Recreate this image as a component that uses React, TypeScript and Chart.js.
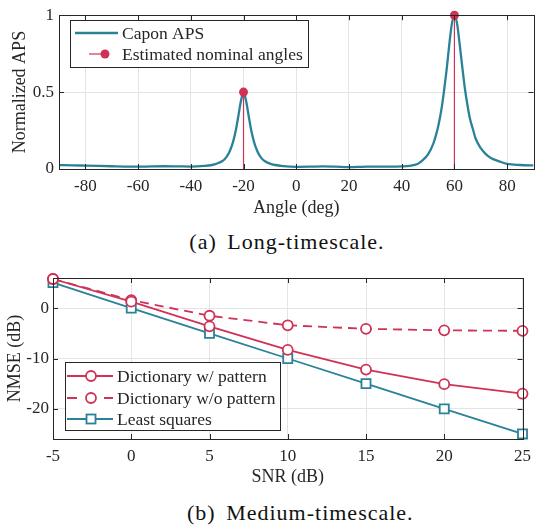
import React, { useEffect, useRef } from "react";
import { Chart, registerables } from "chart.js";
Chart.register(...registerables);

const FONT = "'Liberation Serif', 'Times New Roman', serif";
const RED = "#d03256";
const TEAL = "#2a8298";
const TEXT = "#262626";
const GRID = "#e4e4e4";

// ---------- (a) Long-timescale ----------
const angleTicks = [-80, -60, -40, -20, 0, 20, 40, 60, 80];
const apsTicks = [0, 0.5, 1];
const angles = [
  -90, -85, -80, -75, -70, -65, -60, -55, -50, -45, -40, -35, -32, -30, -28, -27, -26, -25, -24, -23, -22, -21,
  -20, -19, -18, -17, -16, -15, -14, -13, -12, -10, -8, -5, 0, 5, 10, 15, 20, 25, 30, 35, 38, 40, 43, 46, 48,
  50, 52, 53, 54, 55, 56, 57, 58, 59, 60, 61, 62, 63, 64, 65, 66, 67, 68, 70, 72, 74, 77, 80, 85, 90,
];
const caponAps = [
  0.025, 0.024, 0.022, 0.02, 0.018, 0.016, 0.015, 0.017, 0.018, 0.017, 0.016, 0.02, 0.026, 0.036, 0.052, 0.067,
  0.09, 0.125, 0.175, 0.245, 0.34, 0.44, 0.5, 0.44, 0.34, 0.245, 0.175, 0.125, 0.09, 0.067, 0.052, 0.035, 0.026,
  0.019, 0.014, 0.015, 0.017, 0.015, 0.012, 0.014, 0.016, 0.016, 0.016, 0.017, 0.021, 0.033, 0.058, 0.095, 0.165,
  0.22, 0.29, 0.38, 0.5, 0.64, 0.8, 0.94, 1.0, 0.945, 0.81, 0.66, 0.52, 0.41, 0.32, 0.26, 0.2, 0.135, 0.095, 0.07,
  0.05, 0.033, 0.026, 0.023,
];
const estAngles = [-20, 60];
const estValues = [0.5, 1.0];
const seriesA = ["Capon APS", "Estimated nominal angles"];

// ---------- (b) Medium-timescale ----------
const snr = [-5, 0, 5, 10, 15, 20, 25];
const snrTicks = [-5, 0, 5, 10, 15, 20, 25];
const nmseTicks = [-20, -10, 0];
const dictWithPattern = [5.8, 1.3, -3.6, -8.3, -12.2, -15.1, -17.0];
const dictWithoutPattern = [5.8, 1.6, -1.5, -3.4, -4.1, -4.4, -4.5];
const leastSquares = [5.1, 0.0, -5.0, -10.0, -15.0, -20.0, -25.0];
const seriesB = ["Dictionary w/ pattern", "Dictionary w/o pattern", "Least squares"];

const framePlugin = {
  id: "frameTicks",
  afterDatasetsDraw(chart: any) {
    const { ctx, chartArea: a, scales } = chart;
    const tl = 5;
    ctx.save();
    ctx.strokeStyle = TEXT;
    ctx.lineWidth = 1;
    ctx.beginPath();
    scales.x.ticks.forEach((t: any) => {
      const x = Math.round(scales.x.getPixelForValue(t.value)) + 0.5;
      ctx.moveTo(x, a.bottom);
      ctx.lineTo(x, a.bottom - tl);
      ctx.moveTo(x, a.top);
      ctx.lineTo(x, a.top + tl);
    });
    scales.y.ticks.forEach((t: any) => {
      const y = Math.round(scales.y.getPixelForValue(t.value)) + 0.5;
      ctx.moveTo(a.left, y);
      ctx.lineTo(a.left + tl, y);
      ctx.moveTo(a.right, y);
      ctx.lineTo(a.right - tl, y);
    });
    ctx.stroke();
    ctx.strokeRect(Math.round(a.left) + 0.5, Math.round(a.top) + 0.5, Math.round(a.right - a.left), Math.round(a.bottom - a.top));
    ctx.restore();
  },
};

type LegItem = {
  label: string;
  color: string;
  width: number;
  segs: number[][];
  marker: "circle" | "rect" | "dot" | null;
  mx: number;
};

function legendPlugin(box: { x: number; y: number; w: number; h: number }, rows: number[], textX: number, items: LegItem[]) {
  return {
    id: "customLegend",
    afterDraw(chart: any) {
      const ctx = chart.ctx;
      ctx.save();
      ctx.fillStyle = "#fff";
      ctx.fillRect(box.x, box.y, box.w, box.h);
      ctx.strokeStyle = TEXT;
      ctx.lineWidth = 1;
      ctx.strokeRect(box.x + 0.5, box.y + 0.5, box.w, box.h);
      items.forEach((it, i) => {
        const y = rows[i];
        ctx.strokeStyle = it.color;
        ctx.lineWidth = it.width;
        ctx.beginPath();
        it.segs.forEach((s) => {
          ctx.moveTo(s[0], y);
          ctx.lineTo(s[1], y);
        });
        ctx.stroke();
        if (it.marker === "circle") {
          ctx.beginPath();
          ctx.arc(it.mx, y, 5, 0, Math.PI * 2);
          ctx.fillStyle = "#fff";
          ctx.fill();
          ctx.lineWidth = 1.8;
          ctx.stroke();
        } else if (it.marker === "rect") {
          ctx.fillStyle = "#fff";
          ctx.fillRect(it.mx - 4.5, y - 4.5, 9, 9);
          ctx.lineWidth = 1.8;
          ctx.strokeRect(it.mx - 4.5, y - 4.5, 9, 9);
        } else if (it.marker === "dot") {
          ctx.beginPath();
          ctx.arc(it.mx, y, 4.5, 0, Math.PI * 2);
          ctx.fillStyle = it.color;
          ctx.fill();
        }
        ctx.fillStyle = TEXT;
        ctx.font = `17.5px ${FONT}`;
        ctx.textBaseline = "middle";
        ctx.textAlign = "left";
        ctx.fillText(it.label, textX, y + 1);
      });
      ctx.restore();
    },
  };
}

const tickFont = { family: FONT, size: 17 };
const titleFont = { family: FONT, size: 18 };
const plainLabel = (v: any) => String(v);

function makeChartA(canvas: HTMLCanvasElement) {
  const stems = estAngles.map((a, i) => ({
    label: seriesA[1],
    data: [
      { x: a, y: 0 },
      { x: a, y: estValues[i] },
    ],
    borderColor: RED,
    borderWidth: 1.2,
    pointRadius: [0, 4.5],
    pointBackgroundColor: RED,
    pointBorderWidth: 0,
    clip: false as any,
  }));
  return new Chart(canvas, {
    type: "line",
    data: {
      datasets: [
        ...stems,
        {
          label: seriesA[0],
          data: angles.map((a, i) => ({ x: a, y: caponAps[i] })),
          borderColor: TEAL,
          borderWidth: 2.3,
          pointRadius: 0,
          cubicInterpolationMode: "monotone",
        },
      ] as any,
    },
    options: {
      responsive: false,
      animation: false,
      events: [],
      layout: { padding: { top: 11, right: 3, left: 0, bottom: 0 } },
      plugins: { legend: { display: false }, tooltip: { enabled: false } },
      scales: {
        x: {
          type: "linear",
          min: -90,
          max: 90,
          afterBuildTicks: (s: any) => {
            s.ticks = angleTicks.map((v) => ({ value: v }));
          },
          afterFit: (s: any) => {
            s.height = 56;
          },
          grid: { color: GRID, drawTicks: false },
          border: { display: false },
          ticks: { font: tickFont, color: TEXT, padding: 7, maxRotation: 0, callback: plainLabel },
          title: { display: true, text: "Angle (deg)", font: titleFont, color: TEXT, padding: { top: 0, bottom: 6 } },
        },
        y: {
          type: "linear",
          min: 0,
          max: 1,
          afterBuildTicks: (s: any) => {
            s.ticks = apsTicks.map((v) => ({ value: v }));
          },
          afterFit: (s: any) => {
            s.width = 59;
          },
          grid: { color: GRID, drawTicks: false },
          border: { display: false },
          ticks: { font: tickFont, color: TEXT, padding: 5, callback: plainLabel },
          title: { display: true, text: "Normalized APS", font: titleFont, color: TEXT, padding: { top: 9, bottom: 0 } },
        },
      },
    },
    plugins: [
      framePlugin,
      legendPlugin({ x: 70, y: 20, w: 238, h: 47 }, [33, 54], 122, [
        { label: seriesA[0], color: TEAL, width: 2.3, segs: [[75, 118]], marker: null, mx: 0 },
        { label: seriesA[1], color: RED, width: 1.2, segs: [[89, 108]], marker: "dot", mx: 105 },
      ]),
    ],
  });
}

function makeChartB(canvas: HTMLCanvasElement) {
  const pts = (ys: number[]) => snr.map((s, i) => ({ x: s, y: ys[i] }));
  return new Chart(canvas, {
    type: "line",
    data: {
      datasets: [
        {
          label: seriesB[0],
          data: pts(dictWithPattern),
          borderColor: RED,
          borderWidth: 1.8,
          pointStyle: "circle",
          pointRadius: 5,
          pointBorderWidth: 1.8,
          pointBackgroundColor: "#fff",
          pointBorderColor: RED,
          clip: false as any,
        },
        {
          label: seriesB[1],
          data: pts(dictWithoutPattern),
          borderColor: RED,
          borderWidth: 1.8,
          borderDash: [9, 6],
          pointStyle: "circle",
          pointRadius: 5,
          pointBorderWidth: 1.8,
          pointBackgroundColor: "#fff",
          pointBorderColor: RED,
          clip: false as any,
        },
        {
          label: seriesB[2],
          data: pts(leastSquares),
          borderColor: TEAL,
          borderWidth: 1.8,
          pointStyle: "rect",
          pointRadius: 6.4,
          pointBorderWidth: 1.8,
          pointBackgroundColor: "#fff",
          pointBorderColor: TEAL,
          clip: false as any,
        },
      ] as any,
    },
    options: {
      responsive: false,
      animation: false,
      events: [],
      layout: { padding: { top: 23, right: 8, left: 0, bottom: 0 } },
      plugins: { legend: { display: false }, tooltip: { enabled: false } },
      scales: {
        x: {
          type: "linear",
          min: -5,
          max: 25,
          afterBuildTicks: (s: any) => {
            s.ticks = snrTicks.map((v) => ({ value: v }));
          },
          afterFit: (s: any) => {
            s.height = 56;
          },
          grid: { color: GRID, drawTicks: false },
          border: { display: false },
          ticks: { font: tickFont, color: TEXT, padding: 7, maxRotation: 0, callback: plainLabel },
          title: { display: true, text: "SNR (dB)", font: titleFont, color: TEXT, padding: { top: 0, bottom: 7 } },
        },
        y: {
          type: "linear",
          min: -26,
          max: 6,
          afterBuildTicks: (s: any) => {
            s.ticks = nmseTicks.map((v) => ({ value: v }));
          },
          afterFit: (s: any) => {
            s.width = 53;
          },
          grid: { color: GRID, drawTicks: false },
          border: { display: false },
          ticks: { font: tickFont, color: TEXT, padding: 4, callback: plainLabel },
          title: { display: true, text: "NMSE (dB)", font: titleFont, color: TEXT, padding: { top: 4, bottom: 0 } },
        },
      },
    },
    plugins: [
      framePlugin,
      legendPlugin({ x: 65, y: 107, w: 215, h: 68 }, [121, 143, 164], 117, [
        { label: seriesB[0], color: RED, width: 1.8, segs: [[67, 113]], marker: "circle", mx: 91 },
        { label: seriesB[1], color: RED, width: 1.8, segs: [[67, 77], [104, 113]], marker: "circle", mx: 91 },
        { label: seriesB[2], color: TEAL, width: 1.8, segs: [[67, 113]], marker: "rect", mx: 91 },
      ]),
    ],
  });
}

const captionStyle: React.CSSProperties = {
  position: "absolute",
  left: 187,
  width: 200,
  textAlign: "center",
  whiteSpace: "nowrap",
  fontFamily: FONT,
  fontSize: 22,
  letterSpacing: 1,
  wordSpacing: 4,
  color: "#111",
  lineHeight: "26px",
};

export default function App() {
  const refA = useRef<HTMLCanvasElement>(null);
  const refB = useRef<HTMLCanvasElement>(null);
  useEffect(() => {
    const a = makeChartA(refA.current!);
    const b = makeChartB(refB.current!);
    return () => {
      a.destroy();
      b.destroy();
    };
  }, []);
  return (
    <div style={{ position: "fixed", left: 0, top: 0, width: 538, height: 525, background: "#fff", overflow: "hidden" }}>
      <canvas ref={refA} width={538} height={225} style={{ position: "absolute", left: 0, top: 0, width: 538, height: 225 }} />
      <div style={{ ...captionStyle, top: 229 }}>(a) Long-timescale.</div>
      <canvas ref={refB} width={538} height={240} style={{ position: "absolute", left: 0, top: 255, width: 538, height: 240 }} />
      <div style={{ ...captionStyle, top: 500 }}>(b) Medium-timescale.</div>
    </div>
  );
}
